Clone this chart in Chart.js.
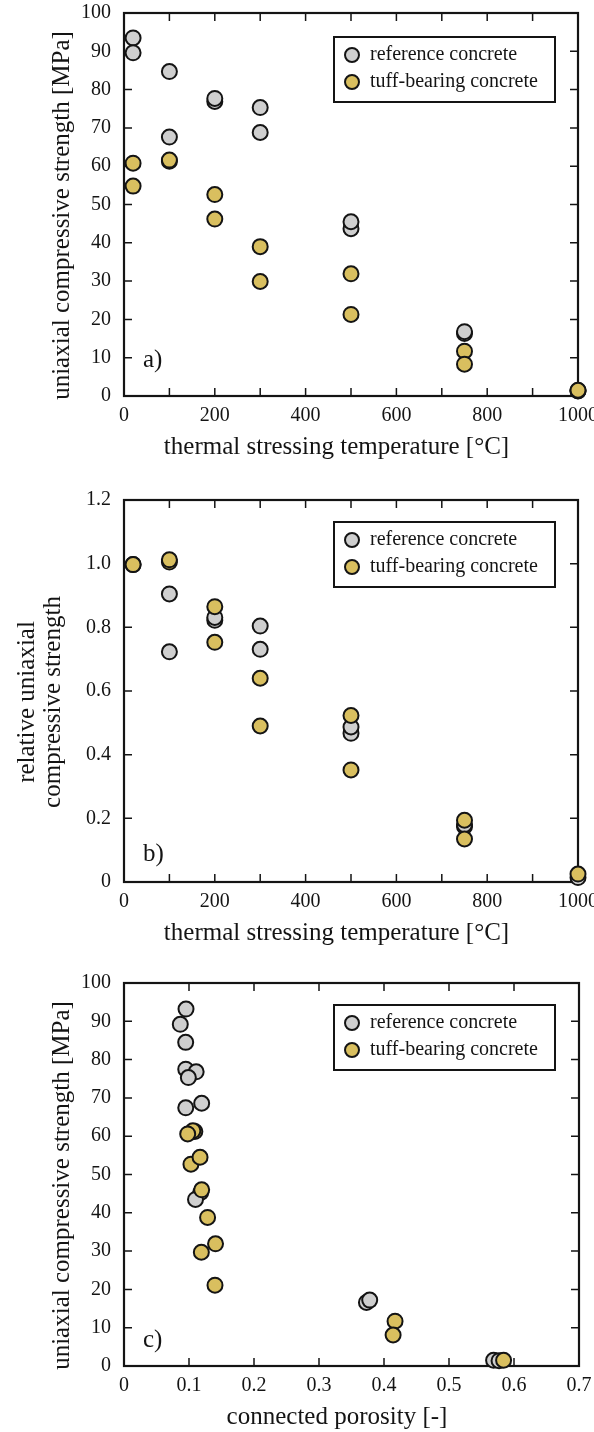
<!DOCTYPE html>
<html>
<head>
<meta charset="utf-8">
<script src="https://cdn.jsdelivr.net/npm/chart.js@4.4.1/dist/chart.umd.min.js"></script>
<style>
  html, body { margin: 0; padding: 0; background: #fff; }
  #page { position: relative; width: 594px; height: 1432px; }
  canvas { position: absolute; left: 0; }
</style>
</head>
<body>
<div id="page">
  <canvas id="chartA" width="594" height="470" style="top:0"></canvas>
  <canvas id="chartB" width="594" height="490" style="top:470px"></canvas>
  <canvas id="chartC" width="594" height="472" style="top:960px"></canvas>
</div>
<script>
// Labels
const LABEL_REF = 'reference concrete';
const LABEL_TUFF = 'tuff-bearing concrete';

// a) strength vs temperature
const tempRef  = [20, 20, 100, 100, 200, 200, 300, 300, 500, 500, 750, 750, 1000, 1000];
const ucsRef   = [93.5, 89.6, 84.7, 67.6, 76.9, 77.7, 75.3, 68.8, 43.7, 45.5, 16.3, 16.8, 1.3, 1.4];
const tempTuff = [20, 20, 100, 100, 200, 200, 300, 300, 500, 500, 750, 750, 1000];
const ucsTuff  = [60.8, 54.8, 61.3, 61.6, 52.6, 46.2, 39.0, 29.9, 31.9, 21.3, 11.7, 8.3, 1.5];

// b) relative strength vs temperature
const relTempRef  = [20, 100, 100, 200, 200, 300, 300, 500, 500, 750, 750, 1000];
const relRef      = [0.997, 0.905, 0.723, 0.822, 0.831, 0.804, 0.731, 0.467, 0.487, 0.174, 0.180, 0.014];
const relTempTuff = [20, 100, 100, 200, 200, 300, 300, 500, 500, 750, 750, 1000];
const relTuff     = [0.997, 1.005, 1.012, 0.865, 0.753, 0.640, 0.490, 0.523, 0.352, 0.194, 0.135, 0.025];

// c) strength vs connected porosity
const porRef   = [0.0954, 0.0866, 0.0949, 0.095, 0.111, 0.099, 0.095, 0.1195, 0.118, 0.110, 0.373, 0.378, 0.5686, 0.577];
const ucsRefC  = [93.2, 89.2, 84.5, 77.5, 76.8, 75.3, 67.4, 68.6, 45.3, 43.5, 16.6, 17.2, 1.5, 1.4];
const porTuff  = [0.109, 0.106, 0.098, 0.103, 0.117, 0.1195, 0.1286, 0.119, 0.1408, 0.140, 0.417, 0.414, 0.584];
const ucsTuffC = [61.2, 61.4, 60.6, 52.7, 54.5, 46.0, 38.8, 29.7, 31.9, 21.1, 11.7, 8.1, 1.5];

const FONT = '"Liberation Serif", "Times New Roman", serif';
const INK = '#141414';
const GREY = '#cfcfcf';
const GOLD = '#d9bf5f';

function pts(xs, ys) {
  return xs.map((x, i) => ({ x, y: ys[i] }));
}

/** Box frame with inward ticks on all four sides */
const framePlugin = {
  id: 'frame',
  beforeDatasetsDraw(chart) {
    const { ctx, chartArea: a, scales: { x, y } } = chart;
    const len = 8;
    ctx.save();
    ctx.strokeStyle = INK;
    ctx.lineWidth = 1.5;
    ctx.beginPath();
    x.ticks.forEach(t => {
      const px = x.getPixelForValue(t.value);
      if (px <= a.left + 1 || px >= a.right - 1) return;
      ctx.moveTo(px, a.bottom); ctx.lineTo(px, a.bottom - len);
      ctx.moveTo(px, a.top); ctx.lineTo(px, a.top + len);
    });
    y.ticks.forEach(t => {
      const py = y.getPixelForValue(t.value);
      if (py <= a.top + 1 || py >= a.bottom - 1) return;
      ctx.moveTo(a.left, py); ctx.lineTo(a.left + len, py);
      ctx.moveTo(a.right, py); ctx.lineTo(a.right - len, py);
    });
    ctx.stroke();
    ctx.lineWidth = 2.2;
    ctx.strokeRect(a.left, a.top, a.right - a.left, a.bottom - a.top);
    ctx.restore();
  }
};

/** Axis titles, panel tag and boxed legend */
const annotatePlugin = {
  id: 'annotate',
  afterDraw(chart, args, opts) {
    const { ctx, chartArea: a } = chart;
    ctx.save();
    ctx.fillStyle = INK;
    ctx.textBaseline = 'middle';

    // x title (centred over plot + y labels)
    ctx.font = `25px ${FONT}`;
    ctx.textAlign = 'center';
    ctx.fillText(opts.xTitle, (a.left - 29 + a.right) / 2, a.bottom + 51);

    // y title, rotated
    const yLines = [].concat(opts.yTitle);
    const cy = (a.top + a.bottom + 22) / 2;
    yLines.forEach((line, i) => {
      ctx.save();
      ctx.translate(opts.yTitleX[i], cy);
      ctx.rotate(-Math.PI / 2);
      ctx.fillText(line, 0, 0);
      ctx.restore();
    });

    // panel tag
    ctx.textAlign = 'left';
    ctx.fillText(opts.tag, a.left + 19, a.bottom - opts.tagUp);

    // legend box
    const lx = a.left + 210, ly = a.top + opts.legendTop, lw = 221, lh = 65;
    ctx.fillStyle = '#fff';
    ctx.fillRect(lx, ly, lw, lh);
    ctx.strokeStyle = INK;
    ctx.lineWidth = 2;
    ctx.strokeRect(lx, ly, lw, lh);
    ctx.font = `20px ${FONT}`;
    chart.data.datasets.forEach((ds, i) => {
      const ry = ly + 18 + i * 27;
      ctx.beginPath();
      ctx.arc(lx + 18, ry, 7, 0, Math.PI * 2);
      ctx.fillStyle = ds.backgroundColor;
      ctx.fill();
      ctx.lineWidth = 2;
      ctx.stroke();
      ctx.fillStyle = INK;
      ctx.fillText(ds.label, lx + 36, ry);
    });
    ctx.restore();
  }
};

function makeChart(id, p) {
  const el = document.getElementById(id);
  const dsBase = { pointRadius: 7.5, pointBorderWidth: 2, borderColor: INK, clip: false, showLine: false };
  return new Chart(el, {
    type: 'scatter',
    data: {
      datasets: [
        { ...dsBase, label: LABEL_REF, data: pts(p.xRef, p.yRef), backgroundColor: GREY, order: 2 },
        { ...dsBase, label: LABEL_TUFF, data: pts(p.xTuff, p.yTuff), backgroundColor: GOLD, order: 1 }
      ]
    },
    options: {
      responsive: false,
      animation: false,
      events: [],
      layout: { padding: { left: 0, right: p.padRight, top: p.padTop, bottom: 0 } },
      scales: {
        x: {
          type: 'linear', min: p.xMin, max: p.xMax,
          grid: { display: false, drawTicks: false },
          border: { display: false },
          ticks: {
            stepSize: p.xStep, autoSkip: false, maxRotation: 0, padding: 8,
            color: INK, font: { family: FONT, size: 20 },
            callback: p.xFmt
          },
          afterFit: s => { s.height = p.xAxisH; s.paddingLeft = 0; s.paddingRight = 0; }
        },
        y: {
          type: 'linear', min: p.yMin, max: p.yMax,
          grid: { display: false, drawTicks: false },
          border: { display: false },
          ticks: {
            stepSize: p.yStep, autoSkip: false, padding: 13,
            color: INK, font: { family: FONT, size: 20 },
            callback: p.yFmt
          },
          afterFit: s => { s.width = 124; s.paddingTop = 0; s.paddingBottom = 0; }
        }
      },
      plugins: {
        legend: { display: false },
        tooltip: { enabled: false },
        annotate: {
          xTitle: p.xTitle, yTitle: p.yTitle, yTitleX: p.yTitleX,
          tag: p.tag, tagUp: p.tagUp, legendTop: p.legendTop
        }
      }
    },
    plugins: [framePlugin, annotatePlugin]
  });
}

const tempFmt = v => (Math.round(v) % 200 === 0 ? String(Math.round(v)) : '');
const intFmt = v => String(Math.round(v));
const decFmt = v => (Math.abs(v) < 1e-9 ? '0' : v.toFixed(1));

makeChart('chartA', {
  xRef: tempRef, yRef: ucsRef, xTuff: tempTuff, yTuff: ucsTuff,
  xMin: 0, xMax: 1000, xStep: 100, xFmt: tempFmt,
  yMin: 0, yMax: 100, yStep: 10, yFmt: intFmt,
  padTop: 13, padRight: 16, xAxisH: 74,
  xTitle: 'thermal stressing temperature [°C]',
  yTitle: 'uniaxial compressive strength [MPa]', yTitleX: [62],
  tag: 'a)', tagUp: 36, legendTop: 24
});

makeChart('chartB', {
  xRef: relTempRef, yRef: relRef, xTuff: relTempTuff, yTuff: relTuff,
  xMin: 0, xMax: 1000, xStep: 100, xFmt: tempFmt,
  yMin: 0, yMax: 1.2, yStep: 0.2, yFmt: decFmt,
  padTop: 30, padRight: 16, xAxisH: 78,
  xTitle: 'thermal stressing temperature [°C]',
  yTitle: ['relative uniaxial', 'compressive strength'], yTitleX: [27, 53],
  tag: 'b)', tagUp: 28, legendTop: 22
});

makeChart('chartC', {
  xRef: porRef, yRef: ucsRefC, xTuff: porTuff, yTuff: ucsTuffC,
  xMin: 0, xMax: 0.7, xStep: 0.1, xFmt: decFmt,
  yMin: 0, yMax: 100, yStep: 10, yFmt: intFmt,
  padTop: 23, padRight: 15, xAxisH: 66,
  xTitle: 'connected porosity [-]',
  yTitle: 'uniaxial compressive strength [MPa]', yTitleX: [62],
  tag: 'c)', tagUp: 26, legendTop: 22
});
</script>
</body>
</html>
